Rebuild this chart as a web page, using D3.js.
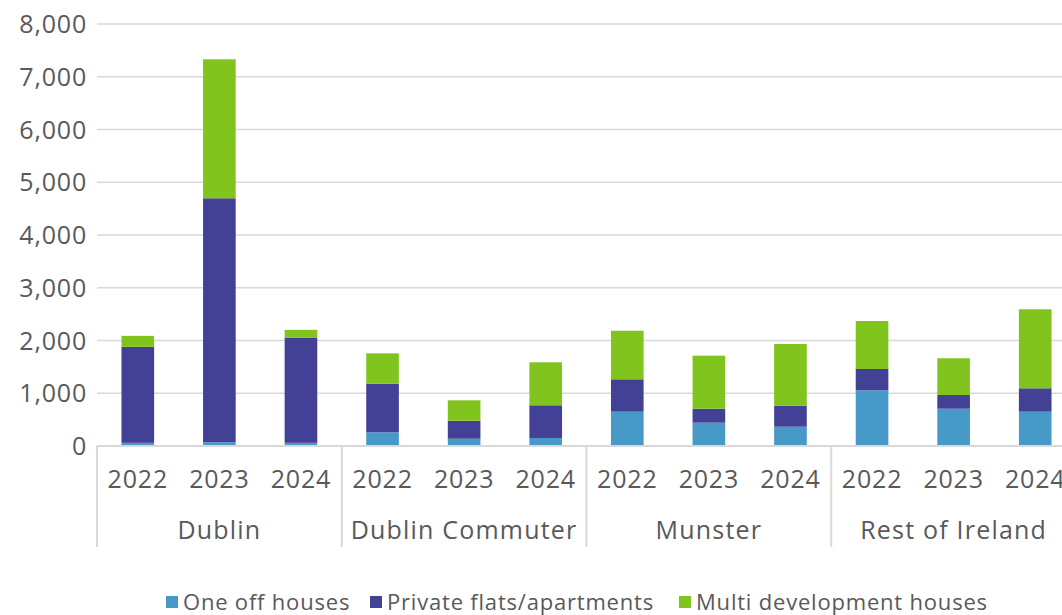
<!DOCTYPE html>
<html>
<head>
<meta charset="utf-8">
<script src="https://cdn.jsdelivr.net/npm/d3@7"></script>
<style>
  body { margin: 0; background: #fff; }
  text { font-family: "Open Sans", sans-serif; fill: #595959; }
</style>
</head>
<body>
<svg id="chart" width="1062" height="615"></svg>
<script>
// data
const regions = ["Dublin", "Dublin Commuter", "Munster", "Rest of Ireland"];
const years = ["2022", "2023", "2024"];
const seriesNames = ["One off houses", "Private flats/apartments", "Multi development houses"];
const colors = ["#4799c8", "#434195", "#82c41e"];
// one value per region/year, in order Dublin 22,23,24, Commuter 22,23,24 ...
const oneOff = [60, 70, 60, 260, 138, 152, 650, 442, 366, 1056, 707, 650];
const flats = [1820, 4626, 1996, 921, 341, 620, 614, 265, 398, 404, 260, 444];
const multi = [208, 2635, 146, 576, 387, 815, 921, 1005, 1170, 910, 696, 1498];
const yTicks = [0, 1000, 2000, 3000, 4000, 5000, 6000, 7000, 8000];

const rows = [];
regions.forEach((r, i) => years.forEach((y, j) => {
  const k = i * 3 + j;
  rows.push({ key: r + "|" + y, region: r, year: y, s0: oneOff[k], s1: flats[k], s2: multi[k] });
}));

const svg = d3.select("#chart");
const plotLeft = 97, plotRight = 1076, plotTop = 24, plotBottom = 446;

const x = d3.scaleBand().domain(rows.map(d => d.key)).range([plotLeft, plotRight])
  .paddingInner(0.6).paddingOuter(0.3);
const xGroup = d3.scaleBand().domain(regions).range([plotLeft, plotRight]).padding(0);
const y = d3.scaleLinear().domain([0, 8000]).range([plotBottom, plotTop]);

// gridlines
svg.append("g").selectAll("line")
  .data(yTicks.filter(d => d > 0))
  .join("line")
  .attr("x1", plotLeft).attr("x2", plotRight)
  .attr("y1", d => y(d)).attr("y2", d => y(d))
  .attr("stroke", "#d9d9d9").attr("stroke-width", 1.5);

// y labels
svg.append("g").selectAll("text")
  .data(yTicks)
  .join("text")
  .attr("x", 87).attr("y", d => y(d))
  .attr("dy", "0.36em")
  .attr("text-anchor", "end")
  .style("font-size", "25px")
  .style("letter-spacing", "0.8px")
  .text(d => d3.format(",")(d));

// stacked bars
const stack = d3.stack().keys(["s0", "s1", "s2"])(rows);
svg.append("g").selectAll("g")
  .data(stack)
  .join("g")
  .attr("fill", (d, i) => colors[i])
  .selectAll("rect")
  .data(d => d)
  .join("rect")
  .attr("x", d => x(d.data.key))
  .attr("width", x.bandwidth())
  .attr("y", d => y(d[1]))
  .attr("height", d => y(d[0]) - y(d[1]));

// axis baseline
svg.append("line")
  .attr("x1", plotLeft).attr("x2", plotRight)
  .attr("y1", plotBottom).attr("y2", plotBottom)
  .attr("stroke", "#d9d9d9").attr("stroke-width", 2);

// group separators
const seps = regions.map(r => xGroup(r)).concat([plotRight]);
svg.append("g").selectAll("line")
  .data(seps)
  .join("line")
  .attr("x1", d => d).attr("x2", d => d)
  .attr("y1", plotBottom).attr("y2", 547)
  .attr("stroke", "#d9d9d9").attr("stroke-width", 2);

// year labels
svg.append("g").selectAll("text")
  .data(rows)
  .join("text")
  .attr("x", d => x(d.key) + x.bandwidth() / 2)
  .attr("y", 488)
  .attr("text-anchor", "middle")
  .style("font-size", "25px")
  .style("letter-spacing", "0.8px")
  .text(d => d.year);

// region labels
svg.append("g").selectAll("text")
  .data(regions)
  .join("text")
  .attr("x", d => xGroup(d) + xGroup.bandwidth() / 2)
  .attr("y", 539)
  .attr("text-anchor", "middle")
  .style("font-size", "25px")
  .style("letter-spacing", "1.2px")
  .text(d => d);

// legend
const legendX = [166, 370, 679];
const lg = svg.append("g").selectAll("g")
  .data(seriesNames)
  .join("g")
  .attr("transform", (d, i) => `translate(${legendX[i]},596)`);
lg.append("rect").attr("width", 12).attr("height", 12)
  .attr("fill", (d, i) => colors[i]);
lg.append("text").attr("x", 17).attr("y", 6).attr("dy", "0.36em")
  .style("font-size", "22px")
  .style("letter-spacing", "0.8px")
  .text(d => d);
</script>
</body>
</html>
